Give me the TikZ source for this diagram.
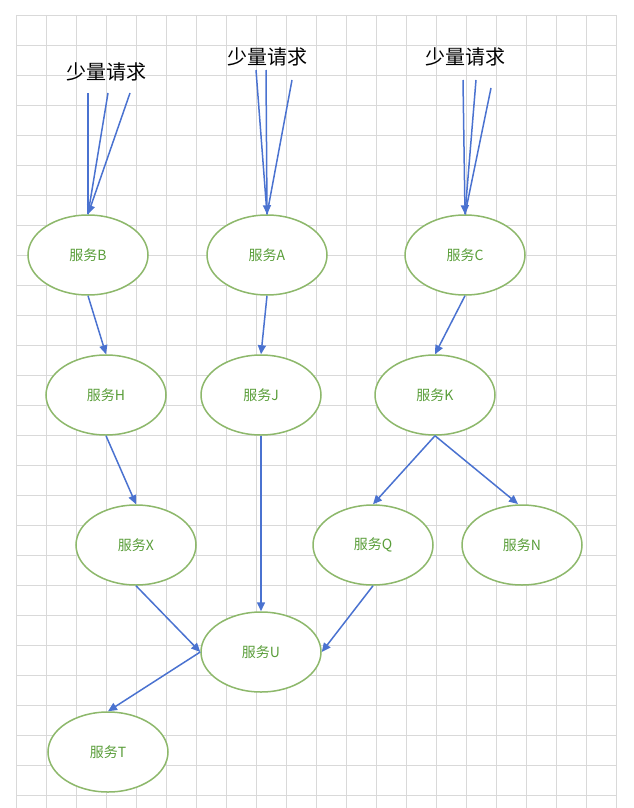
\documentclass[tikz,border=0pt]{standalone}
\usepackage{fontspec}
\setmainfont{Noto Sans CJK SC}
\usetikzlibrary{shapes.geometric,arrows.meta}
\definecolor{eg}{HTML}{8DB86B}
\definecolor{tg}{HTML}{5A9E3A}
\definecolor{ab}{HTML}{4A72D0}
\begin{document}
\begin{tikzpicture}[x=1pt,y=-1pt,
 svc/.style={ellipse,draw=eg,line width=1.5pt,fill=white,minimum width=120pt,minimum height=80pt,text=tg,font=\fontsize{14}{16}\selectfont},
 arr/.style={draw=ab,line width=1.5pt,-{Triangle[length=9pt,width=8pt]}},
 ln/.style={draw=ab,line width=1.5pt},
 lbl/.style={font=\fontsize{20}{24}\selectfont}]
\useasboundingbox (0,0) rectangle (633,808);
\foreach \x in {16,46,...,616} \draw[gray!30,line width=0.7pt] (\x,15)--(\x,808);
\foreach \y in {15,45,...,808} \draw[gray!30,line width=0.7pt] (16,\y)--(616,\y);
\node[svc] (B) at (88,255) {服务B};
\node[svc] (A) at (267,255) {服务A};
\node[svc] (C) at (465,255) {服务C};
\node[svc] (H) at (106,395) {服务H};
\node[svc] (J) at (261,395) {服务J};
\node[svc] (K) at (435,395) {服务K};
\node[svc] (X) at (136,545) {服务X};
\node[svc] (Q) at (373,545) {服务Q};
\node[svc] (N) at (522,545) {服务N};
\node[svc] (U) at (261,652) {服务U};
\node[svc] (T) at (108,752) {服务T};
\node[lbl] (LB) at (106,72) {少量请求};
\node[lbl] (LA) at (267,57) {少量请求};
\node[lbl] (LC) at (465,57) {少量请求};
\coordinate (b1) at (88,93); \coordinate (b2) at (108,93); \coordinate (b3) at (130,93);
\coordinate (a1) at (256,70); \coordinate (a2) at (266,70); \coordinate (a3) at (292,80);
\coordinate (c1) at (463,80); \coordinate (c2) at (476,80); \coordinate (c3) at (491,88);
\coordinate (nn) at (518,504);
\foreach \p in {b1,b2} \draw[ln] (\p) -- (B.north);
\draw[arr] (b3) -- (B.north);
\foreach \p in {a1,a3} \draw[ln] (\p) -- (A.north);
\draw[arr] (a2) -- (A.north);
\foreach \p in {c2,c3} \draw[ln] (\p) -- (C.north);
\draw[arr] (c1) -- (C.north);
\draw[arr] (B.south) -- (H.north);
\draw[arr] (A.south) -- (J.north);
\draw[arr] (C.south) -- (K.north);
\draw[arr] (H.south) -- (X.north);
\draw[arr] (J.south) -- (U.north);
\draw[arr] (K.south) -- (Q.north);
\draw[arr] (K.south) -- (nn);
\draw[arr] (X.south) -- (U.west);
\draw[arr] (Q.south) -- (U.east);
\draw[arr] (U.west) -- (T.north);
\end{tikzpicture}
\end{document}
